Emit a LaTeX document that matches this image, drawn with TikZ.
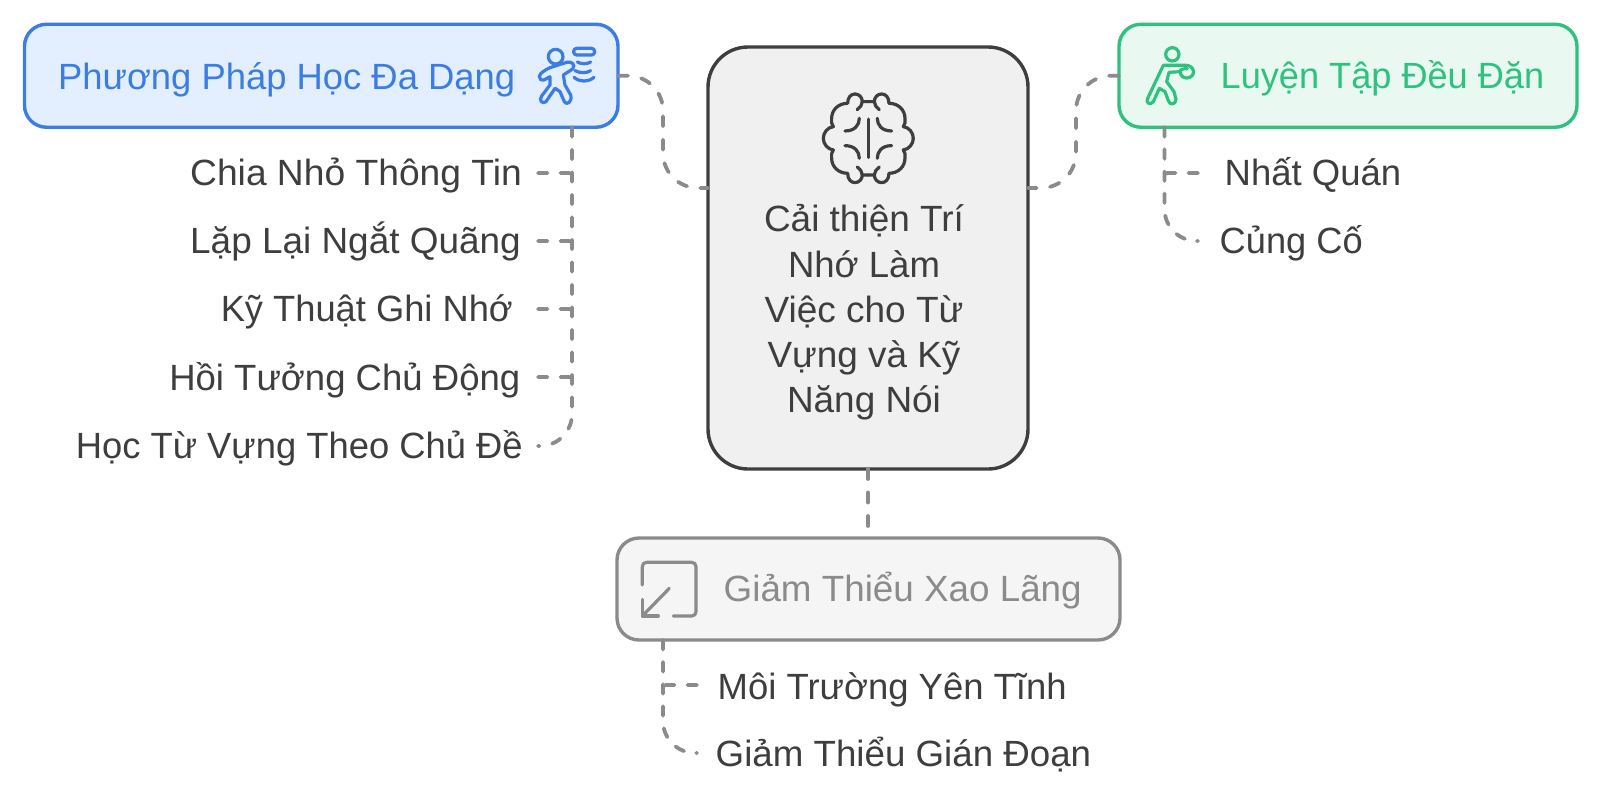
\documentclass[tikz,border=0pt]{standalone}
\usepackage{graphicx}
\usepackage{fontspec}
\setmainfont{Liberation Sans}
\definecolor{cblue}{HTML}{3B7DE2}
\definecolor{fblue}{HTML}{E3EEFF}
\definecolor{cgreen}{HTML}{2EC27E}
\definecolor{fgreen}{HTML}{E9F9F2}
\definecolor{cgray}{HTML}{8B8B8B}
\definecolor{fgray}{HTML}{F5F5F5}
\definecolor{cdark}{HTML}{3E3E3E}
\definecolor{fdark}{HTML}{F0F0F0}
\newcommand\fitw[2]{\resizebox{#1pt}{\height}{#2}}
\tikzset{
  x=1pt,y=-1pt,
  box/.style={draw,line width=3.4pt,rounded corners=22pt,outer sep=0pt,inner sep=0pt},
  lbl/.style={font=\fontsize{36.5}{45.2}\selectfont,inner sep=0pt,text=cdark},
  lnk/.style={draw=cgray,line width=3.8pt,line cap=round,dash pattern=on 9.5pt off 13pt},
  lnks/.style={draw=cgray,line width=3.8pt,line cap=round,dash pattern=on 9.5pt off 12.6pt},
  lnkb/.style={draw=cgray,line width=3.8pt,line cap=round,dash pattern=on 10pt off 13.5pt},
  ico/.style={line width=3.2pt,line cap=round,line join=round},
}
\begin{document}
\begin{tikzpicture}
\useasboundingbox (0,0) rectangle (1600,800);
% boxes
\node[box,draw=cblue,fill=fblue,minimum width=593.5pt,minimum height=103pt] (blue) at (321.25,75.75) {};
\node[box,draw=cgreen,fill=fgreen,minimum width=458pt,minimum height=103pt] (green) at (1348,75.75) {};
\node[box,draw=cgray,fill=fgray,minimum width=503pt,minimum height=102pt] (gray) at (868.5,589) {};
\node[box,draw=cdark,fill=fdark,rounded corners=40pt,minimum width=320pt,minimum height=422pt] (main) at (868,258) {};
% titles
\node[lbl,text=cblue,anchor=base west] (tblue) at (58,89) {\fitw{457}{Phương Pháp Học Đa Dạng}};
\node[lbl,text=cgreen,anchor=base west] (tgreen) at (1220.5,88.5) {\fitw{323.5}{Luyện Tập Đều Đặn}};
\node[lbl,text=cgray,anchor=base west] (tgray) at (723.5,601) {\fitw{358}{Giảm Thiểu Xao Lãng}};
\node[lbl,align=center] (tmain) at (864,312.5) {\fitw{200}{Cải thiện Trí}\\\fitw{152}{Nhớ Làm}\\\fitw{199}{Việc cho Từ}\\\fitw{193}{Vựng và Kỹ}\\\fitw{154}{Năng Nói}};
% leaves
\node[lbl,anchor=base east] (l1) at (522,185.5) {\fitw{331.6}{Chia Nhỏ Thông Tin}};
\node[lbl,anchor=base east] (l2) at (521,253.5) {\fitw{330.6}{Lặp Lại Ngắt Quãng}};
\node[lbl,anchor=base east] (l3) at (513,321.5) {\fitw{292}{Kỹ Thuật Ghi Nhớ}};
\node[lbl,anchor=base east] (l4) at (520.5,390) {\fitw{351}{Hồi Tưởng Chủ Động}};
\node[lbl,anchor=base east] (l5) at (523,458) {\fitw{447}{Học Từ Vựng Theo Chủ Đề}};
\node[lbl,anchor=base west] (r1) at (1224.5,185.5) {\fitw{176.5}{Nhất Quán}};
\node[lbl,anchor=base west] (r2) at (1219.5,253.5) {\fitw{143}{Củng Cố}};
\node[lbl,anchor=base west] (g1) at (717.5,699) {\fitw{349}{Môi Trường Yên Tĩnh}};
\node[lbl,anchor=base west] (g2) at (715.5,766) {\fitw{375.5}{Giảm Thiểu Gián Đoạn}};
% connector ends
\coordinate (e1) at (538,173);
\coordinate (e2) at (538,241);
\coordinate (e3) at (538,309);
\coordinate (e4) at (538,377);
\coordinate (e5) at (538,446);
\coordinate (f1) at (1198,173);
\coordinate (f2) at (1198,241);
\coordinate (h1) at (697,685);
\coordinate (h2) at (697,753);
\coordinate (ml) at (708,188);
\coordinate (mr) at (1028,188);
\coordinate (gt) at (868,527);
% connectors
\draw[lnkb,rounded corners=35pt] (blue.east) -- (663,75.75) -- (663,188) -- (ml);
\draw[lnkb,rounded corners=35pt] (green.west) -- (1076,75.75) -- (1076,188) -- (mr);
\draw[lnkb] (main.south) -- (gt);
\draw[lnk,rounded corners=32pt] (572,127.25) -- (572,446) -- (e5);
\foreach \e in {e1,e2,e3,e4}{\draw[lnk,rounded corners=3pt] (\e) -- (572,0 |- \e) -- ([yshift=-8pt]572,0 |- \e);}
\draw[lnks,rounded corners=32pt] (1164.5,127.25) -- (1164.5,241) -- (f2);
\draw[lnk,rounded corners=3pt] (f1) -- (1164.5,0 |- f1) -- ([yshift=-8pt]1164.5,0 |- f1);
\draw[lnks,rounded corners=32pt] (663,640) -- (663,753) -- (h2);
\draw[lnk,rounded corners=3pt] (h1) -- (663,0 |- h1) -- ([yshift=-8pt]663,0 |- h1);
% blue icon
\begin{scope}[xshift=500pt,yshift=-20pt,x=0.3333pt,y=-0.3333pt,ico,draw=cblue]
\draw (167,110) circle (22*0.3333pt);
\draw (118,170) .. controls (118,160) and (135,150) .. (150,143) -- (200,127) .. controls (215,122) and (228,135) .. (218,147) -- (190,165) -- (195,195) -- (212,225) .. controls (218,245) and (200,258) .. (193,245) -- (180,215) -- (165,205) -- (138,245) .. controls (128,255) and (115,240) .. (125,228) -- (150,195) -- (150,170) -- (132,180) .. controls (125,184) and (118,178) .. (118,170) -- cycle;
\draw[rounded corners=3pt] (221,85) rectangle (284,105);
\draw (232,126) .. controls (245,133) and (260,133) .. (272,126);
\draw (225,152) .. controls (240,160) and (260,160) .. (272,152);
\draw (222,172) .. controls (240,187) and (265,187) .. (282,172);
\end{scope}
% brain icon
\foreach \sx/\sy in {1/1,-1/1,1/-1,-1/-1}{
\begin{scope}[xshift=868.3pt,yshift=-138.3pt,x=\sx*0.3333pt,y=\sy*0.3333pt,ico,draw=cdark]
\draw (0,110) -- (-18,110) .. controls (-18,123) and (-28,133) .. (-40,133) .. controls (-52,133) and (-62,123) .. (-62,105) .. controls (-90,105) and (-110,85) .. (-110,60) .. controls (-112,50) and (-110,42) .. (-105,35) .. controls (-122,33) and (-135,17) .. (-135,0);
\draw (-18,110) .. controls (-18,100) and (-25,92) .. (-33,86);
\draw (-27,60) .. controls (-27,40) and (-40,22) .. (-70,22);
\draw (0,57) -- (0,0);
\end{scope}}
% green icon
\begin{scope}[xshift=1100pt,yshift=-20pt,x=0.3333pt,y=-0.3333pt,ico,draw=cgreen]
\draw (217,103) circle (20*0.3333pt);
\draw (190,136) -- (258,136) .. controls (285,136) and (290,172) .. (260,174) .. controls (250,174) and (242,168) .. (240,155) -- (207,157) -- (200,185) -- (222,215) -- (228,238) .. controls (228,255) and (208,256) .. (205,242) -- (195,215) -- (178,205) -- (160,245) .. controls (150,258) and (136,248) .. (143,235) -- cycle;
\draw (240,155) .. controls (240,148) and (250,146) .. (262,146);
\end{scope}
% gray icon
\begin{scope}[xshift=610pt,yshift=-530pt,x=0.3333pt,y=-0.3333pt,ico,draw=cgray]
\draw (97,165) -- (97,110) .. controls (97,102) and (102,97) .. (110,97) -- (245,97) .. controls (253,97) and (258,102) .. (258,110) -- (258,245) .. controls (258,253) and (253,258) .. (245,258) -- (190,258);
\draw (178,175) -- (97,258);
\draw (97,208) -- (97,258) -- (145,258);
\end{scope}
\end{tikzpicture}
\end{document}
